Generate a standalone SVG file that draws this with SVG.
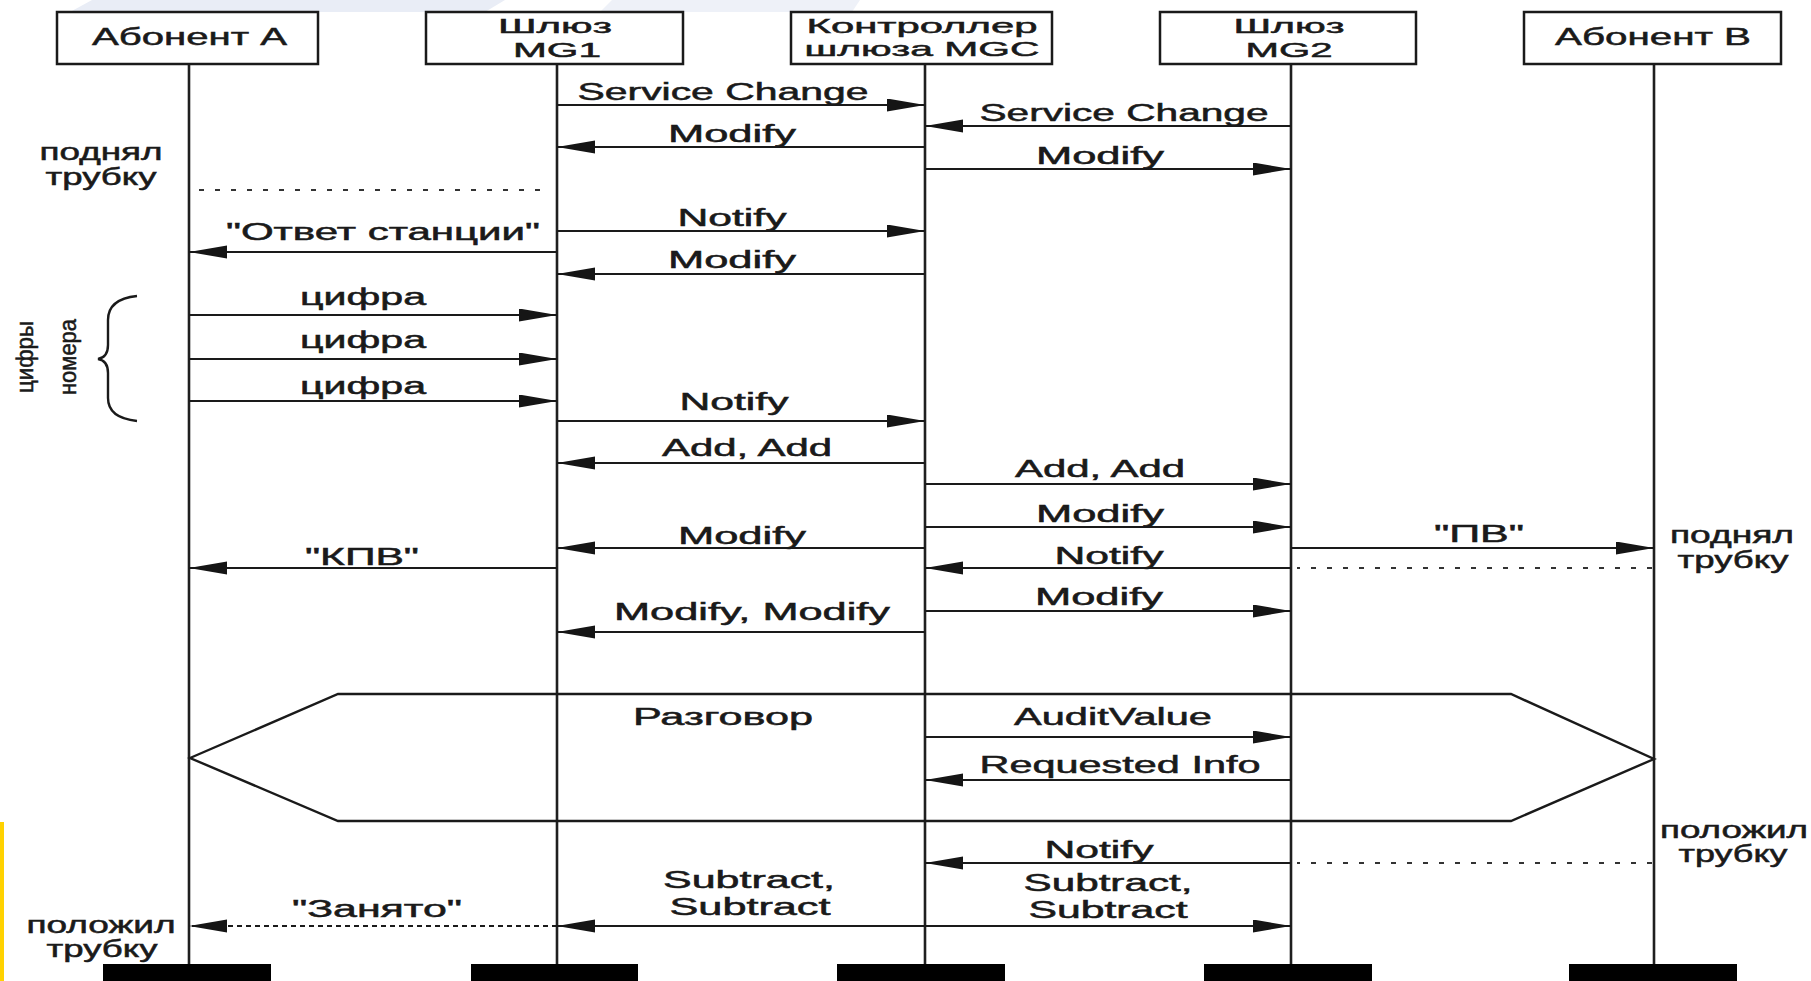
<svg xmlns="http://www.w3.org/2000/svg" width="1811" height="981" viewBox="0 0 1811 981">
<defs>
<marker id="ah" markerUnits="userSpaceOnUse" markerWidth="40" markerHeight="14" refX="38" refY="6.5" orient="auto">
<path d="M0,0 L38,6.5 L0,13 z" fill="#151515"/>
</marker>
<style>
.t{font-family:"Liberation Sans",Arial,sans-serif;font-size:23px;fill:#1a1a1a;stroke:#1a1a1a;stroke-width:0.5;text-anchor:middle}
.h{font-size:24px}
.h2{font-size:21px}
.v{font-size:24px}
.box{fill:#fff;stroke:#1a1a1a;stroke-width:2.5}
.life{stroke:#1f1f1f;stroke-width:2.6;fill:none}
.bar{fill:#000}
.msg{stroke:#1a1a1a;stroke-width:2.2;fill:none;marker-end:url(#ah)}
.dash{stroke:#1a1a1a;stroke-width:2;stroke-dasharray:5 4}
.dot{stroke:#333;stroke-width:1.8;stroke-dasharray:5 11;fill:none}
.shape{stroke:#1a1a1a;stroke-width:2.4;fill:none}
</style>
</defs>
<rect x="0" y="0" width="1811" height="981" fill="#fff"/>
<g id="watermark">
<polygon points="70,12 92,0 505,0 485,12" fill="#e9edf6"/>
<polygon points="600,12 612,0 860,0 852,12" fill="#eef1f8"/>
</g>
<rect x="0" y="822" width="4" height="159" fill="#ffd200"/>

<g id="lifelines">
<line class="life" x1="189" y1="64" x2="189" y2="966"/>
<line class="life" x1="557" y1="64" x2="557" y2="966"/>
<line class="life" x1="925" y1="64" x2="925" y2="966"/>
<line class="life" x1="1291" y1="64" x2="1291" y2="966"/>
<line class="life" x1="1654" y1="64" x2="1654" y2="966"/>
</g>

<g id="node-A">
<rect class="box" x="57" y="12" width="261" height="52"/>
<text class="t h" x="189.5" y="45" textLength="195" lengthAdjust="spacingAndGlyphs">Абонент А</text>
<rect class="bar" x="103" y="964" width="168" height="17"/>
</g>
<g id="node-MG1">
<rect class="box" x="426" y="12" width="257" height="52"/>
<text class="t h2" x="555" y="33" textLength="114" lengthAdjust="spacingAndGlyphs">Шлюз</text>
<text class="t h2" x="557" y="57" textLength="88" lengthAdjust="spacingAndGlyphs">MG1</text>
<rect class="bar" x="471" y="964" width="167" height="17"/>
</g>
<g id="node-MGC">
<rect class="box" x="791" y="12" width="261" height="52"/>
<text class="t h2" x="922" y="33" textLength="231" lengthAdjust="spacingAndGlyphs">Контроллер</text>
<text class="t h2" x="922" y="56" textLength="235" lengthAdjust="spacingAndGlyphs">шлюза MGC</text>
<rect class="bar" x="837" y="964" width="168" height="17"/>
</g>
<g id="node-MG2">
<rect class="box" x="1160" y="12" width="256" height="52"/>
<text class="t h2" x="1289" y="33" textLength="111" lengthAdjust="spacingAndGlyphs">Шлюз</text>
<text class="t h2" x="1289" y="57" textLength="87" lengthAdjust="spacingAndGlyphs">MG2</text>
<rect class="bar" x="1204" y="964" width="168" height="17"/>
</g>
<g id="node-B">
<rect class="box" x="1524" y="12" width="257" height="52"/>
<text class="t h" x="1653" y="45" textLength="196" lengthAdjust="spacingAndGlyphs">Абонент В</text>
<rect class="bar" x="1569" y="964" width="168" height="17"/>
</g>

<g id="conversation">
<polygon class="shape" points="190,758 338,694 1511,694 1654,759 1511,821 338,821"/>
<text class="t" x="723" y="725" textLength="180" lengthAdjust="spacingAndGlyphs">Разговор</text>
</g>

<g id="annotations">
<text class="t" x="101" y="160" textLength="123" lengthAdjust="spacingAndGlyphs">поднял</text>
<text class="t" x="101" y="185" textLength="111" lengthAdjust="spacingAndGlyphs">трубку</text>
<text class="t" x="1732" y="543" textLength="124" lengthAdjust="spacingAndGlyphs">поднял</text>
<text class="t" x="1733" y="568" textLength="111" lengthAdjust="spacingAndGlyphs">трубку</text>
<text class="t" x="1734" y="838" textLength="148" lengthAdjust="spacingAndGlyphs">положил</text>
<text class="t" x="1733" y="862" textLength="109" lengthAdjust="spacingAndGlyphs">трубку</text>
<text class="t" x="101" y="933" textLength="149" lengthAdjust="spacingAndGlyphs">положил</text>
<text class="t" x="102" y="957" textLength="111" lengthAdjust="spacingAndGlyphs">трубку</text>
<path class="shape" d="M137,296 C118,298 108,306 108,320 L108,345 C108,354 104,358 98,359 C104,360 108,364 108,373 L108,398 C108,412 118,419 137,421" stroke-width="2"/>
<text class="t v" x="0" y="0" transform="translate(33,357) rotate(-90)" textLength="72" lengthAdjust="spacingAndGlyphs">цифры</text>
<text class="t v" x="0" y="0" transform="translate(76,357) rotate(-90)" textLength="76" lengthAdjust="spacingAndGlyphs">номера</text>
</g>

<g id="connectors">
<line class="msg" x1="557" y1="105" x2="925" y2="105"/>
<text class="t" x="723" y="100" textLength="291" lengthAdjust="spacingAndGlyphs">Service Change</text>
<line class="msg" x1="1291" y1="126" x2="925" y2="126"/>
<text class="t" x="1124" y="121" textLength="289" lengthAdjust="spacingAndGlyphs">Service Change</text>
<line class="msg" x1="925" y1="147" x2="557" y2="147"/>
<text class="t" x="732" y="142" textLength="128" lengthAdjust="spacingAndGlyphs">Modify</text>
<line class="msg" x1="925" y1="169" x2="1291" y2="169"/>
<text class="t" x="1100" y="164" textLength="128" lengthAdjust="spacingAndGlyphs">Modify</text>
<line class="dot" x1="199" y1="190" x2="545" y2="190"/>
<line class="msg" x1="557" y1="231" x2="925" y2="231"/>
<text class="t" x="732" y="226" textLength="109" lengthAdjust="spacingAndGlyphs">Notify</text>
<line class="msg" x1="557" y1="252" x2="189" y2="252"/>
<text class="t" x="383" y="240" textLength="314" lengthAdjust="spacingAndGlyphs">"Ответ станции"</text>
<line class="msg" x1="925" y1="274" x2="557" y2="274"/>
<text class="t" x="732" y="268" textLength="128" lengthAdjust="spacingAndGlyphs">Modify</text>
<line class="msg" x1="189" y1="315" x2="557" y2="315"/>
<text class="t" x="363" y="305" textLength="126" lengthAdjust="spacingAndGlyphs">цифра</text>
<line class="msg" x1="189" y1="359" x2="557" y2="359"/>
<text class="t" x="363" y="348" textLength="126" lengthAdjust="spacingAndGlyphs">цифра</text>
<line class="msg" x1="189" y1="401" x2="557" y2="401"/>
<text class="t" x="363" y="394" textLength="126" lengthAdjust="spacingAndGlyphs">цифра</text>
<line class="msg" x1="557" y1="421" x2="925" y2="421"/>
<text class="t" x="734" y="410" textLength="109" lengthAdjust="spacingAndGlyphs">Notify</text>
<line class="msg" x1="925" y1="463" x2="557" y2="463"/>
<text class="t" x="747" y="456" textLength="170" lengthAdjust="spacingAndGlyphs">Add, Add</text>
<line class="msg" x1="925" y1="484" x2="1291" y2="484"/>
<text class="t" x="1100" y="477" textLength="170" lengthAdjust="spacingAndGlyphs">Add, Add</text>
<line class="msg" x1="925" y1="527" x2="1291" y2="527"/>
<text class="t" x="1100" y="522" textLength="128" lengthAdjust="spacingAndGlyphs">Modify</text>
<line class="msg" x1="925" y1="548" x2="557" y2="548"/>
<text class="t" x="742" y="544" textLength="128" lengthAdjust="spacingAndGlyphs">Modify</text>
<line class="msg" x1="1291" y1="548" x2="1654" y2="548"/>
<text class="t" x="1479" y="542" textLength="90" lengthAdjust="spacingAndGlyphs">"ПВ"</text>
<line class="msg" x1="557" y1="568" x2="189" y2="568"/>
<text class="t" x="362" y="565" textLength="114" lengthAdjust="spacingAndGlyphs">"КПВ"</text>
<line class="msg" x1="1291" y1="568" x2="925" y2="568"/>
<text class="t" x="1109" y="564" textLength="109" lengthAdjust="spacingAndGlyphs">Notify</text>
<line class="dot" x1="1652" y1="568" x2="1297" y2="568"/>
<line class="msg" x1="925" y1="611" x2="1291" y2="611"/>
<text class="t" x="1099" y="605" textLength="128" lengthAdjust="spacingAndGlyphs">Modify</text>
<line class="msg" x1="925" y1="632" x2="557" y2="632"/>
<text class="t" x="752" y="620" textLength="276" lengthAdjust="spacingAndGlyphs">Modify, Modify</text>
<line class="msg" x1="925" y1="737" x2="1291" y2="737"/>
<text class="t" x="1113" y="725" textLength="198" lengthAdjust="spacingAndGlyphs">AuditValue</text>
<line class="msg" x1="1291" y1="780" x2="925" y2="780"/>
<text class="t" x="1120" y="773" textLength="281" lengthAdjust="spacingAndGlyphs">Requested Info</text>
<line class="msg" x1="1291" y1="863" x2="925" y2="863"/>
<text class="t" x="1099" y="858" textLength="109" lengthAdjust="spacingAndGlyphs">Notify</text>
<line class="dot" x1="1652" y1="863" x2="1297" y2="863"/>
<line class="msg" x1="925" y1="926" x2="1291" y2="926"/>
<text class="t" x="1108" y="891" textLength="169" lengthAdjust="spacingAndGlyphs">Subtract,</text>
<text class="t" x="1108" y="918" textLength="159" lengthAdjust="spacingAndGlyphs">Subtract</text>
<line class="msg" x1="925" y1="926" x2="557" y2="926"/>
<text class="t" x="749" y="888" textLength="172" lengthAdjust="spacingAndGlyphs">Subtract,</text>
<text class="t" x="750" y="915" textLength="161" lengthAdjust="spacingAndGlyphs">Subtract</text>
<line class="msg dash" x1="557" y1="926" x2="189" y2="926"/>
<text class="t" x="377" y="917" textLength="170" lengthAdjust="spacingAndGlyphs">"Занято"</text>
</g>
</svg>
